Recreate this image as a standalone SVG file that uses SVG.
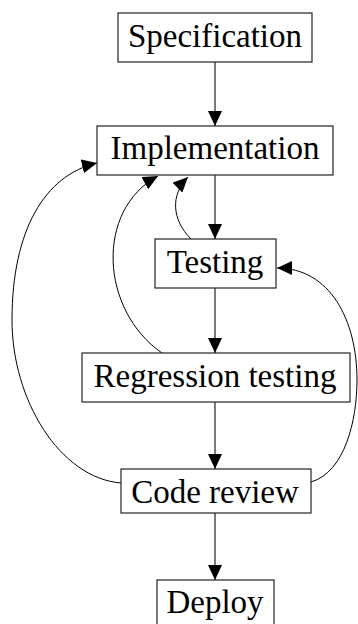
<svg xmlns="http://www.w3.org/2000/svg" width="358" height="624" viewBox="0 0 358 624">
<style>
.box{fill:#fff;stroke:#222;stroke-width:1.2}
.lbl{font-family:"Liberation Serif","DejaVu Serif",serif;font-size:33px;fill:#000;text-anchor:middle}
.edge{fill:none;stroke:#222;stroke-width:1.2}
.curve{fill:none;stroke:#000;stroke-width:1}
</style>
<defs>
<marker id="ah" viewBox="0 0 15 14" refX="15" refY="7" markerWidth="15" markerHeight="14" markerUnits="userSpaceOnUse" orient="auto">
<path d="M0,0 L15,7 L0,14 Z" fill="#000"/>
</marker>
</defs>
<g id="connectors">
<line class="edge" x1="215" y1="62" x2="215" y2="126" marker-end="url(#ah)"/>
<line class="edge" x1="215" y1="175" x2="215" y2="239" marker-end="url(#ah)"/>
<line class="edge" x1="215" y1="288" x2="215" y2="353" marker-end="url(#ah)"/>
<line class="edge" x1="215" y1="402" x2="215" y2="469" marker-end="url(#ah)"/>
<line class="edge" x1="215" y1="513" x2="215" y2="580" marker-end="url(#ah)"/>
<path class="curve" d="M191,239 C172,220 170,195 188,177" marker-end="url(#ah)"/>
<path class="curve" d="M162,353 C100,310 95,210 158,176" marker-end="url(#ah)"/>
<path class="curve" d="M121,483 C60,478 12,400 12,320 C12,230 45,175 97,163" marker-end="url(#ah)"/>
<path class="curve" d="M311,482 C345,472 357,420 357,380 C357,320 330,268 277,268" marker-end="url(#ah)"/>
</g>
<g id="specification">
<rect class="box" x="118" y="13" width="194" height="49"/>
<text class="lbl" x="215" y="47">Specification</text>
</g>
<g id="implementation">
<rect class="box" x="97" y="126" width="236" height="49"/>
<text class="lbl" x="215" y="159">Implementation</text>
</g>
<g id="testing">
<rect class="box" x="155" y="239" width="121" height="49"/>
<text class="lbl" x="215" y="273">Testing</text>
</g>
<g id="regression">
<rect class="box" x="82" y="353" width="268" height="49"/>
<text class="lbl" x="215" y="387">Regression testing</text>
</g>
<g id="codereview">
<rect class="box" x="121" y="469" width="190" height="44"/>
<text class="lbl" x="215" y="503">Code review</text>
</g>
<g id="deploy">
<rect class="box" x="157" y="580" width="117" height="49"/>
<text class="lbl" x="215" y="613">Deploy</text>
</g>
</svg>
